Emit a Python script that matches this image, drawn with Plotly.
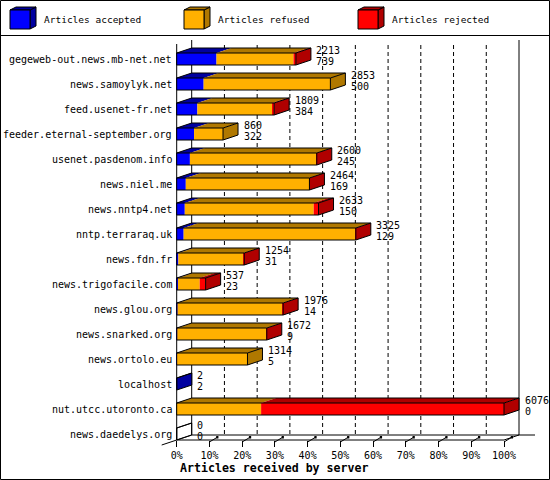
import plotly.graph_objects as go

# ---------------- data ----------------
servers = ["gegeweb-out.news.mb-net.net", "news.samoylyk.net", "feed.usenet-fr.net",
           "feeder.eternal-september.org", "usenet.pasdenom.info", "news.niel.me",
           "news.nntp4.net", "nntp.terraraq.uk", "news.fdn.fr", "news.trigofacile.com",
           "news.glou.org", "news.snarked.org", "news.ortolo.eu", "localhost",
           "nut.utcc.utoronto.ca", "news.daedelys.org"]
total    = [2213, 2853, 1809, 860, 2600, 2464, 2633, 3325, 1254, 537, 1976, 1672, 1314, 2, 6076, 0]
accepted = [739, 500, 384, 322, 245, 169, 150, 129, 31, 23, 14, 9, 5, 2, 0, 0]
refused  = [1429, 2353, 1390, 538, 2347, 2287, 2393, 3190, 1213, 404, 1950, 1653, 1309, 0, 1567, 0]
rejected = [45, 0, 35, 0, 8, 8, 90, 6, 10, 110, 12, 10, 0, 0, 4509, 0]
series_names = ["Articles accepted", "Articles refused", "Articles rejected"]
tick_pcts = [0, 10, 20, 30, 40, 50, 60, 70, 80, 90, 100]
tick_labels = [f"{t}%" for t in tick_pcts]
x_title = "Articles received by server"

# ---------------- styling / geometry ----------------
FONT = "DejaVu Sans Mono"
W, H = 550, 480
X0, X100 = 176.7, 504.0
PX = (X100 - X0) / 100.0
ROW0, ROWH = 59.0, 25.0
TOP, BOT = 36, 440
L, R = 155, 545
DX = 15 / PX          # depth in % units
DY = 5 / ROWH         # depth in row units
HH = 6 / ROWH         # half height of front face
front_cols = ["#0000ff", "#ffb000", "#ff0000"]
dark_cols = ["#0000a0", "#b07800", "#b00000"]

xr = [(L - X0) / PX, (R - X0) / PX]
yr = [(BOT - ROW0) / ROWH, (TOP - ROW0) / ROWH]


def pxx(p):
    return (p - X0) / PX


def pyy(p):
    return (p - ROW0) / ROWH


def paper_x(p):
    return (p - L) / (R - L)


def paper_y(p):
    return (BOT - p) / (BOT - TOP)


maxv = max(total)
idx = list(range(len(servers)))
segs = [accepted, refused, rejected]
pct = [[v / maxv * 100 for v in s] for s in segs]

fig = go.Figure()

# front faces
bases = [0.0] * len(servers)
starts = []
for k in range(3):
    starts.append(list(bases))
    fig.add_trace(go.Bar(orientation="h", y=idx, x=pct[k], base=list(bases), width=2 * HH,
                         marker=dict(color=front_cols[k], line=dict(width=0)),
                         showlegend=False, hoverinfo="skip"))
    bases = [b + p for b, p in zip(bases, pct[k])]
ends = bases

# top faces
for k in range(3):
    xs, ys = [], []
    for i in idx:
        a = starts[k][i]
        b = a + pct[k][i]
        if pct[k][i] <= 0:
            continue
        t = i - HH
        xs += [a, b, b + DX, a + DX, a, None]
        ys += [t, t, t - DY, t - DY, t, None]
    if xs:
        fig.add_trace(go.Scatter(x=xs, y=ys, fill="toself", fillcolor=dark_cols[k], mode="none",
                                 showlegend=False, hoverinfo="skip"))

# side faces
for k in range(3):
    xs, ys = [], []
    for i in idx:
        last = None
        for kk in range(3):
            if segs[kk][i] > 0:
                last = kk
        if last != k:
            continue
        b = ends[i]
        t, bm = i - HH, i + HH
        xs += [b, b + DX, b + DX, b, b, None]
        ys += [t, t - DY, bm - DY, bm, t, None]
    if xs:
        fig.add_trace(go.Scatter(x=xs, y=ys, fill="toself", fillcolor=dark_cols[k], mode="none",
                                 showlegend=False, hoverinfo="skip"))

# outlines
xs, ys = [], []
for i in idx:
    b = ends[i]
    t, bm = i - HH, i + HH
    xs += [0, b, b, 0, 0, None, 0, DX, b + DX, b + DX, b, None, b, b + DX, None]
    ys += [t, t, bm, bm, t, None, t, t - DY, t - DY, bm - DY, bm, None, t, t - DY, None]
fig.add_trace(go.Scatter(x=xs, y=ys, mode="lines", line=dict(color="black", width=1),
                         showlegend=False, hoverinfo="skip"))

annotations = []
# value labels
for i in idx:
    xlab = ends[i] + DX + 3.5 / PX
    annotations.append(dict(x=xlab, y=i - 9 / ROWH, xref="x", yref="y", text=str(total[i]),
                            showarrow=False, xanchor="left", yanchor="middle",
                            font=dict(family=FONT, size=10, color="black")))
    annotations.append(dict(x=xlab, y=i + 2.5 / ROWH, xref="x", yref="y", text=str(accepted[i]),
                            showarrow=False, xanchor="left", yanchor="middle",
                            font=dict(family=FONT, size=10, color="black")))
# category labels
for i, s in enumerate(servers):
    annotations.append(dict(x=pxx(174), y=i, xref="x", yref="y", text=s, showarrow=False,
                            xanchor="right", yanchor="middle",
                            font=dict(family=FONT, size=10, color="black")))
# x title
annotations.append(dict(x=paper_x(178), y=paper_y(467.5), xref="paper", yref="paper",
                        text="<b>" + x_title + "</b>",
                        showarrow=False, xanchor="left", yanchor="middle",
                        font=dict(family=FONT, size=11.6, color="black")))

shapes = []
# dashed back grid
for t in tick_pcts[1:-1]:
    shapes.append(dict(type="line", xref="x", yref="y", x0=t + DX, x1=t + DX, y0=pyy(45), y1=pyy(435),
                       line=dict(color="black", width=1, dash="4px,3px"), layer="below"))
# walls
line_k = dict(color="black", width=1)
shapes.append(dict(type="line", xref="x", yref="y", x0=DX, x1=DX, y0=pyy(40), y1=pyy(435), line=line_k, layer="below"))
shapes.append(dict(type="line", xref="x", yref="y", x0=100 + DX, x1=100 + DX, y0=pyy(40), y1=pyy(435), line=line_k, layer="below"))
shapes.append(dict(type="line", xref="x", yref="y", x0=0, x1=0, y0=pyy(44), y1=pyy(440), line=line_k, layer="below"))
shapes.append(dict(type="line", xref="x", yref="y", x0=DX, x1=pxx(535), y0=pyy(435), y1=pyy(435), line=line_k, layer="below"))
# front axis & slants
shapes.append(dict(type="line", xref="x", yref="paper", x0=0, x1=100, y0=paper_y(440), y1=paper_y(440), line=line_k))
shapes.append(dict(type="line", xref="x", yref="paper", x0=-DX, x1=DX, y0=paper_y(445), y1=paper_y(435), line=line_k))
shapes.append(dict(type="line", xref="x", yref="paper", x0=100, x1=100 + DX, y0=paper_y(440), y1=paper_y(435), line=line_k))
for t in tick_pcts[1:]:
    shapes.append(dict(type="line", xref="x", yref="paper", x0=t, x1=t + DX * 0.55,
                       y0=paper_y(442), y1=paper_y(437), line=line_k))
    shapes.append(dict(type="rect", xref="x", yref="paper", x0=t + DX * 0.45, x1=t + DX * 0.6,
                       y0=paper_y(438.5), y1=paper_y(436), line=dict(width=0), fillcolor="black"))

# outer border and legend separator
shapes.append(dict(type="rect", xref="paper", yref="paper", x0=paper_x(0.5), x1=paper_x(549.5),
                   y0=paper_y(479.5), y1=paper_y(0.5), line=line_k))
shapes.append(dict(type="line", xref="paper", yref="paper", x0=paper_x(0), x1=paper_x(550),
                   y0=paper_y(35.5), y1=paper_y(35.5), line=line_k))

# legend cubes
leg_x = [10, 184, 358]
for k in range(3):
    x0 = leg_x[k]
    fx1 = x0 + 20
    fy0, fy1 = 10, 29
    d, e = 6, 3
    # side
    shapes.append(dict(type="path", xref="paper", yref="paper",
                       path=f"M{paper_x(fx1)},{paper_y(fy0)} L{paper_x(fx1 + d)},{paper_y(fy0 - e)} "
                            f"L{paper_x(fx1 + d)},{paper_y(fy1 - e)} L{paper_x(fx1)},{paper_y(fy1)} Z",
                       fillcolor=dark_cols[k], line=line_k))
    # top
    shapes.append(dict(type="path", xref="paper", yref="paper",
                       path=f"M{paper_x(x0)},{paper_y(fy0)} L{paper_x(x0 + d)},{paper_y(fy0 - e)} "
                            f"L{paper_x(fx1 + d)},{paper_y(fy0 - e)} L{paper_x(fx1)},{paper_y(fy0)} Z",
                       fillcolor=dark_cols[k], line=line_k))
    # front
    shapes.append(dict(type="rect", xref="paper", yref="paper", x0=paper_x(x0), x1=paper_x(fx1),
                       y0=paper_y(fy1), y1=paper_y(fy0), fillcolor=front_cols[k], line=line_k))
    annotations.append(dict(x=paper_x(fx1 + d + 6), y=paper_y(20), xref="paper", yref="paper",
                            text=series_names[k], showarrow=False, xanchor="left", yanchor="middle",
                            font=dict(family=FONT, size=9.5, color="black")))

fig.update_layout(
    width=W, height=H, autosize=False,
    margin=dict(l=L, r=W - R, t=TOP, b=H - BOT, pad=0),
    paper_bgcolor="white", plot_bgcolor="white",
    barmode="overlay", showlegend=False,
    xaxis=dict(range=xr, tickvals=tick_pcts, ticktext=tick_labels, ticks="outside", ticklen=6,
               tickcolor="black", tickwidth=1, showgrid=False, zeroline=False, showline=False,
               tickfont=dict(family=FONT, size=10, color="black"), fixedrange=True),
    yaxis=dict(range=yr, visible=False, showgrid=False, zeroline=False, fixedrange=True),
    shapes=shapes, annotations=annotations,
)

fig.write_html("out.html", config={"displayModeBar": False},
               post_script="document.body.style.margin='0';document.body.style.overflow='hidden';")
